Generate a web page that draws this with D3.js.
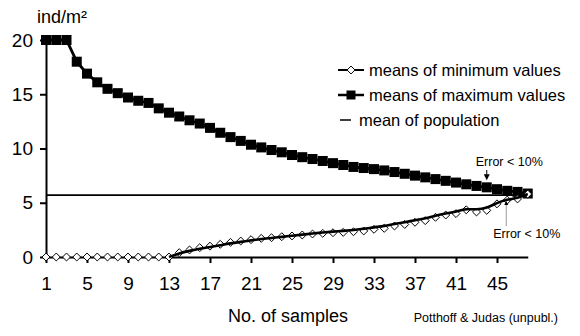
<!DOCTYPE html>
<html>
<head>
<meta charset="utf-8">
<script src="https://cdn.jsdelivr.net/npm/d3@7"></script>
<style>
  body { margin: 0; background: #fff; }
  svg { display: block; font-family: "Liberation Sans", Arial, sans-serif; }
  .axis path, .axis line { stroke: #000; stroke-width: 2; }
  .axis text { font-size: 19px; fill: #000; }
</style>
</head>
<body>
<svg id="chart" width="580" height="336"></svg>
<script>
// number of samples (x categories)
var samples = [1,2,3,4,5,6,7,8,9,10,11,12,13,14,15,16,17,18,19,20,21,22,23,24,
               25,26,27,28,29,30,31,32,33,34,35,36,37,38,39,40,41,42,43,44,45,46,47,48];

// means of maximum values (ind/m²)
var maxMeans = [20,20,20,18.0,16.9,16.1,15.5,15.1,14.7,14.4,14.2,13.7,13.3,12.95,12.6,12.3,
                11.9,11.45,11.05,10.7,10.35,10.1,9.86,9.65,9.4,9.2,9.03,8.85,8.65,8.48,8.3,8.2,
                8.1,7.98,7.83,7.67,7.5,7.34,7.18,7.02,6.86,6.7,6.55,6.42,6.25,6.1,6.0,5.85];

// means of minimum values (ind/m²)
var minMeans = [0,0,0,0,0,0,0,0,0,0,0,0,0,0.4,0.65,0.86,1.0,1.17,1.35,1.47,1.6,1.72,1.78,1.87,
                1.94,2.03,2.12,2.18,2.24,2.27,2.33,2.4,2.55,2.64,2.86,3.0,3.2,3.35,3.66,3.87,
                4.0,4.35,4.15,4.3,4.9,5.25,5.35,5.8];

var populationMean = 5.7;

var xTicks = [1,5,9,13,17,21,25,29,33,37,41,45];
var yTicks = [0,5,10,15,20];

var legendLabels = ["means of minimum values", "means of maximum values", "mean of population"];
var errorLabel = "Error < 10%";

var svg = d3.select("#chart");

var x = d3.scaleLinear().domain([1, 48]).range([46, 527.75]);
var y = d3.scaleLinear().domain([0, 20]).range([257, 40]);

var data = samples.map(function(s, i){ return {n: s, max: maxMeans[i], min: minMeans[i]}; });

// axes
svg.append("g")
    .attr("class", "axis")
    .attr("transform", "translate(0," + y(0) + ")")
    .call(d3.axisBottom(x).tickValues(xTicks).tickSize(6).tickSizeOuter(0).tickPadding(14));

svg.append("g")
    .attr("class", "axis")
    .attr("transform", "translate(" + x(1) + ",0)")
    .call(d3.axisLeft(y).tickValues(yTicks).tickSize(6).tickSizeOuter(0).tickPadding(7));

svg.selectAll(".axis .domain").attr("stroke-width", 2.5);

// mean of population
svg.append("line")
    .attr("x1", x(1)).attr("x2", x(48))
    .attr("y1", y(populationMean)).attr("y2", y(populationMean))
    .attr("stroke", "#000").attr("stroke-width", 1.6);

// max series
var lineMax = d3.line()
    .x(function(d){ return x(d.n); })
    .y(function(d){ return y(d.max); });

svg.append("path")
    .datum(data)
    .attr("d", lineMax)
    .attr("fill", "none").attr("stroke", "#000").attr("stroke-width", 2.8);

svg.append("g").selectAll("rect")
    .data(data).enter()
    .append("rect")
    .attr("x", function(d){ return x(d.n) - 5; })
    .attr("y", function(d){ return y(d.max) - 5; })
    .attr("width", 10).attr("height", 10)
    .attr("fill", "#000");

// min series: diamonds + smoothed line from the first rise
var diamond = d3.symbol().type(d3.symbolDiamond2).size(40);

svg.append("g").selectAll("path")
    .data(data).enter()
    .append("path")
    .attr("d", diamond)
    .attr("transform", function(d){ return "translate(" + x(d.n) + "," + y(d.min) + ")"; })
    .attr("fill", "#fff").attr("stroke", "#000").attr("stroke-width", 1);

var lineMin = d3.line()
    .curve(d3.curveBundle.beta(0.75))
    .x(function(d){ return x(d.n); })
    .y(function(d){ return y(d.min); });

svg.append("path")
    .datum(data.filter(function(d){ return d.n >= 13; }))
    .attr("d", lineMin)
    .attr("fill", "none").attr("stroke", "#000").attr("stroke-width", 2.6);

// y title
svg.append("text")
    .attr("x", 37).attr("y", 23)
    .attr("font-size", 18)
    .text("ind/m²");

// x title
svg.append("text")
    .attr("x", 288).attr("y", 322)
    .attr("text-anchor", "middle")
    .attr("font-size", 18)
    .text("No. of samples");

svg.append("text")
    .attr("x", 558).attr("y", 322)
    .attr("text-anchor", "end")
    .attr("font-size", 12.5)
    .text("Potthoff & Judas (unpubl.)");

// legend
var legend = svg.append("g").attr("transform", "translate(338,70)");
var rowH = 25;

legend.append("line").attr("x1", 0).attr("x2", 26).attr("y1", 0).attr("y2", 0)
    .attr("stroke", "#000").attr("stroke-width", 2);
legend.append("path").attr("d", diamond).attr("transform", "translate(13,0)")
    .attr("fill", "#fff").attr("stroke", "#000");

legend.append("line").attr("x1", 0).attr("x2", 26).attr("y1", rowH).attr("y2", rowH)
    .attr("stroke", "#000").attr("stroke-width", 2.5);
legend.append("rect").attr("x", 8.5).attr("y", rowH - 4.5).attr("width", 9).attr("height", 9)
    .attr("fill", "#000");

legend.append("line").attr("x1", 2).attr("x2", 13).attr("y1", 2 * rowH).attr("y2", 2 * rowH)
    .attr("stroke", "#000").attr("stroke-width", 1.5);

legend.selectAll("text")
    .data(legendLabels).enter()
    .append("text")
    .attr("x", function(d, i){ return i < 2 ? 31 : 21; })
    .attr("y", function(d, i){ return i * rowH + 6; })
    .attr("font-size", 16.5)
    .text(function(d){ return d; });

// error annotations
var upX = x(44);
svg.append("text")
    .attr("x", upX - 11).attr("y", 166)
    .attr("font-size", 12.5)
    .text(errorLabel);
svg.append("line")
    .attr("x1", upX).attr("x2", upX)
    .attr("y1", 170).attr("y2", y(maxMeans[43]) - 9)
    .attr("stroke", "#000").attr("stroke-width", 1);
svg.append("path")
    .attr("d", "M" + (upX - 3) + "," + (y(maxMeans[43]) - 13) + "L" + (upX + 3) + "," + (y(maxMeans[43]) - 13) + "L" + upX + "," + (y(maxMeans[43]) - 7) + "Z")
    .attr("fill", "#000");

var loX = x(46) - 1;
svg.append("text")
    .attr("x", loX - 13).attr("y", 238)
    .attr("font-size", 12.5)
    .text(errorLabel);
svg.append("line")
    .attr("x1", loX).attr("x2", loX)
    .attr("y1", 226).attr("y2", y(minMeans[45]) + 2)
    .attr("stroke", "#999").attr("stroke-width", 1);
svg.append("path")
    .attr("d", "M" + (loX - 2) + "," + (y(minMeans[45]) + 5) + "L" + (loX + 2) + "," + (y(minMeans[45]) + 5) + "L" + loX + "," + (y(minMeans[45]) + 1) + "Z")
    .attr("fill", "#000");
</script>
</body>
</html>
